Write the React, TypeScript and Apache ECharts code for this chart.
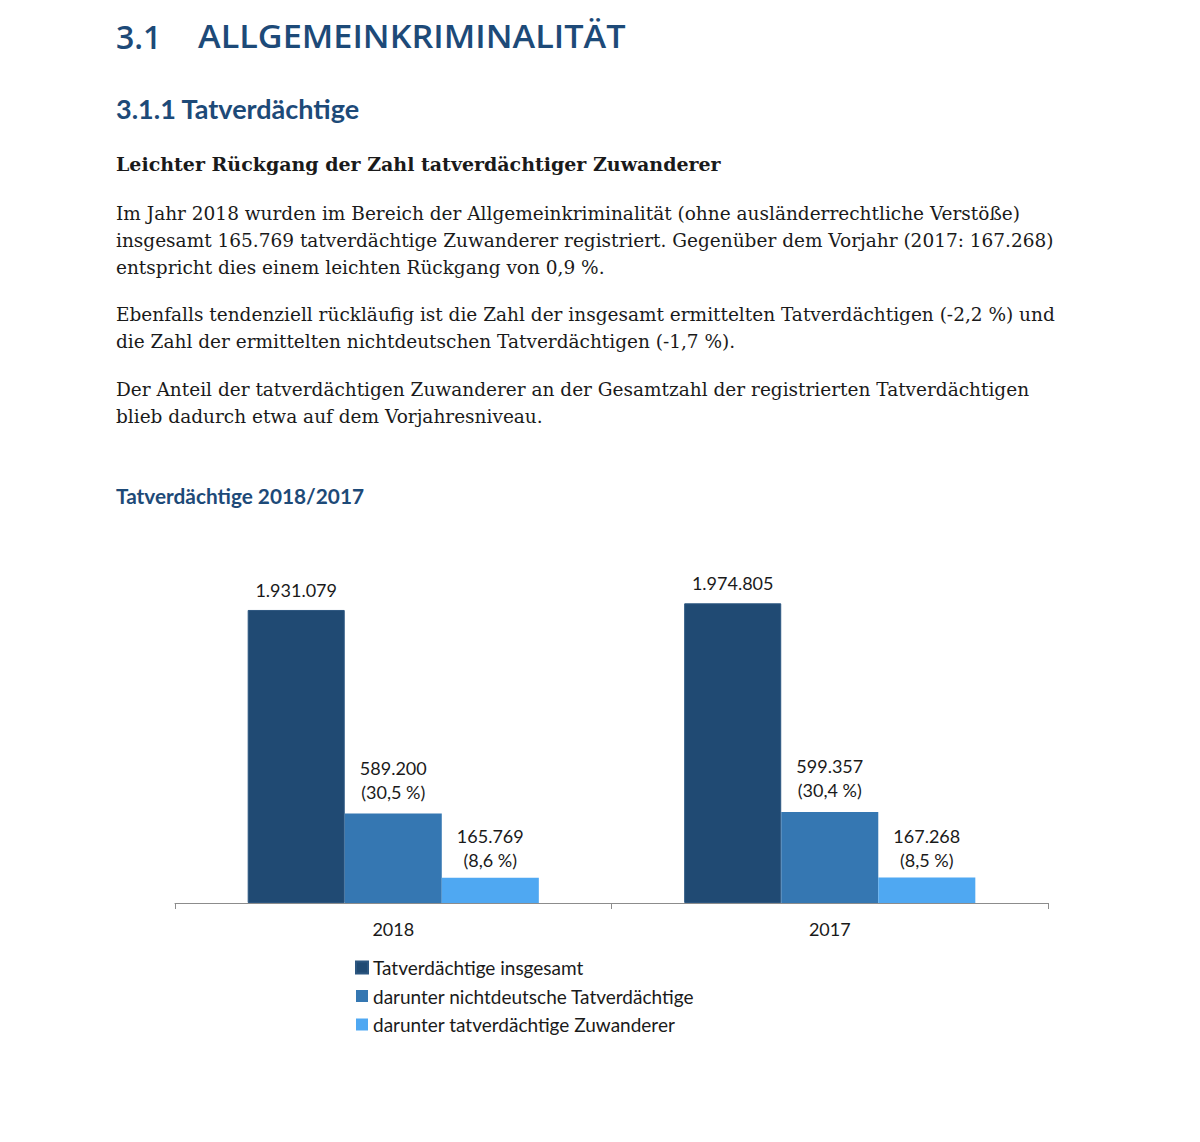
import React, { useEffect, useRef } from "react";
import * as echarts from "echarts";

const categories = ["2018", "2017"];
const seriesNames = [
  "Tatverdächtige insgesamt",
  "darunter nichtdeutsche Tatverdächtige",
  "darunter tatverdächtige Zuwanderer",
];
const totalValues = [1931079, 1974805];
const nonGermanValues = [589200, 599357];
const immigrantValues = [165769, 167268];
const nonGermanShare = [30.5, 30.4];
const immigrantShare = [8.6, 8.5];
const colors = ["#204a73", "#3577b2", "#4fa8f2"];

const bodyLines1 = [
  "Im Jahr 2018 wurden im Bereich der Allgemeinkriminalität (ohne ausländerrechtliche Verstöße)",
  "insgesamt 165.769 tatverdächtige Zuwanderer registriert. Gegenüber dem Vorjahr (2017: 167.268)",
  "entspricht dies einem leichten Rückgang von 0,9 %.",
];
const bodyLines2 = [
  "Ebenfalls tendenziell rückläufig ist die Zahl der insgesamt ermittelten Tatverdächtigen (-2,2 %) und",
  "die Zahl der ermittelten nichtdeutschen Tatverdächtigen (-1,7 %).",
];
const bodyLines3 = [
  "Der Anteil der tatverdächtigen Zuwanderer an der Gesamtzahl der registrierten Tatverdächtigen",
  "blieb dadurch etwa auf dem Vorjahresniveau.",
];

function fmtDe(n: number): string {
  const s = String(Math.round(n));
  let out = "";
  for (let i = 0; i < s.length; i++) {
    const fromEnd = s.length - i;
    out += s[i];
    if (fromEnd > 1 && (fromEnd - 1) % 3 === 0) out += ".";
  }
  return out;
}
function fmtPct(p: number): string {
  return p.toFixed(1).replace(".", ",");
}

const BLUE = "#1d4a78";
const TEXT = "#1a1a1a";
const SANS = "Lato, 'Open Sans', sans-serif";
const TITLE = "'Open Sans', Lato, sans-serif";
const SERIF = "'DejaVu Serif', 'Liberation Serif', serif";

function textEl(text: string, x: number, y: number, font: string, fill: string, scaleX = 1) {
  return {
    type: "text",
    x,
    y,
    scaleX,
    silent: true,
    style: { text, font, fill, verticalAlign: "middle", textVerticalAlign: "middle" },
  };
}

export default function App() {
  const ref = useRef<HTMLDivElement>(null);
  useEffect(() => {
    if (!ref.current) return;
    const chart = echarts.init(ref.current, undefined, { renderer: "svg" });
    const graphics: any[] = [];
    graphics.push(textEl("3.1", 116, 36, `600 32px ${TITLE}`, BLUE));
    graphics.push(textEl("ALLGEMEINKRIMINALITÄT", 198, 36, `600 32px ${TITLE}`, BLUE, 1.07));
    graphics.push(textEl("3.1.1 Tatverdächtige", 116, 108, `bold 27px ${SANS}`, BLUE));
    graphics.push(
      textEl("Leichter Rückgang der Zahl tatverdächtiger Zuwanderer", 116, 164, `bold 19px ${SERIF}`, TEXT)
    );
    bodyLines1.forEach((l, i) => graphics.push(textEl(l, 116, 213 + i * 27, `18.5px ${SERIF}`, TEXT)));
    bodyLines2.forEach((l, i) => graphics.push(textEl(l, 116, 314 + i * 27, `18.5px ${SERIF}`, TEXT)));
    bodyLines3.forEach((l, i) => graphics.push(textEl(l, 116, 389 + i * 27, `18.5px ${SERIF}`, TEXT)));
    graphics.push(textEl("Tatverdächtige 2018/2017", 116, 495, `bold 20.8px ${SANS}`, BLUE));

    const labelBase = {
      show: true,
      position: "top",
      color: TEXT,
      fontFamily: SANS,
      fontSize: 18,
      lineHeight: 24,
      align: "center",
    };

    chart.setOption({
      animation: false,
      backgroundColor: "#ffffff",
      graphic: graphics,
      grid: { left: 175, width: 873, top: 599.5, height: 303.5 },
      legend: {
        orient: "vertical",
        left: 350,
        top: 953,
        itemWidth: 12,
        itemHeight: 12,
        itemGap: 9.5,
        icon: "rect",
        data: seriesNames,
        textStyle: { color: TEXT, fontFamily: SANS, fontSize: 19, lineHeight: 19 },
      },
      xAxis: {
        type: "category",
        data: categories,
        axisLine: { lineStyle: { color: "#8c8c8c", width: 1 } },
        axisTick: { show: true, length: 6, lineStyle: { color: "#8c8c8c" } },
        axisLabel: { color: TEXT, fontFamily: SANS, fontSize: 18, margin: 17 },
      },
      yAxis: {
        type: "value",
        min: 0,
        max: 2000000,
        show: false,
        splitLine: { show: false },
      },
      series: [
        {
          name: seriesNames[0],
          type: "bar",
          data: totalValues,
          barGap: "0%",
          barCategoryGap: "33.3%",
          itemStyle: { color: colors[0], borderColor: "#2c5680", borderWidth: 1 },
          label: { ...labelBase, distance: 8, formatter: (p: any) => fmtDe(p.value) },
        },
        {
          name: seriesNames[1],
          type: "bar",
          data: nonGermanValues,
          barGap: "0%",
          barCategoryGap: "33.3%",
          itemStyle: { color: colors[1] },
          label: {
            ...labelBase,
            distance: 10,
            formatter: (p: any) => `${fmtDe(p.value)}\n(${fmtPct(nonGermanShare[p.dataIndex])} %)`,
          },
        },
        {
          name: seriesNames[2],
          type: "bar",
          data: immigrantValues,
          barGap: "0%",
          barCategoryGap: "33.3%",
          itemStyle: { color: colors[2] },
          label: {
            ...labelBase,
            distance: 6,
            formatter: (p: any) => `${fmtDe(p.value)}\n(${fmtPct(immigrantShare[p.dataIndex])} %)`,
          },
        },
      ],
    });
    return () => chart.dispose();
  }, []);
  return (
    <div
      ref={ref}
      style={{ position: "absolute", left: 0, top: 0, width: 1200, height: 1142, background: "#fff" }}
    />
  );
}
